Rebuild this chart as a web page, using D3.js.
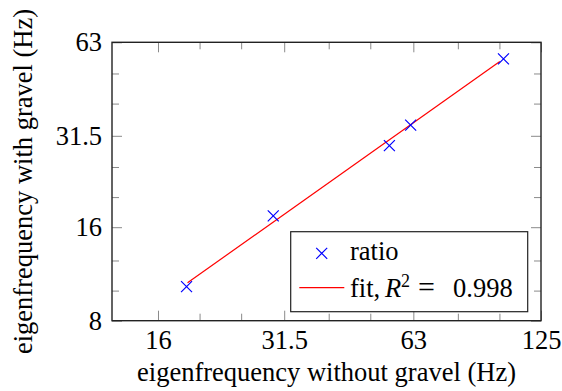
<!DOCTYPE html>
<html>
<head>
<meta charset="utf-8">
<script src="https://cdn.jsdelivr.net/npm/d3@7"></script>
<style>
  body { margin: 0; background: #fff; }
</style>
</head>
<body>
<div id="chart"></div>
<script>
// data
const freqWithout = [18.65, 29.7, 55.4, 62.1, 102.2];
const freqWith = [10.3, 17.4, 29.3, 34.1, 55.7];
const fitX = [18.75, 100.2];
const fitY = [10.6, 54.6];
const xMajor = [16, 31.5, 63, 125];
const xMinor = [20, 25, 40, 50, 80, 100];
const yMajor = [8, 16, 31.5, 63];
const yMinor = [10, 12.5, 20, 25, 40, 50];
const legendLabels = ["ratio", "fit"];

const width = 562;
const height = 391;
const m = { left: 112, right: 541, top: 42.3, bottom: 320.7 };
const fontSize = 26.5;
const serif = "'Liberation Serif', 'Times New Roman', serif";

const svg = d3.select("#chart").append("svg")
  .attr("width", width)
  .attr("height", height)
  .style("font-family", serif);

const x = d3.scaleLog().base(2).domain([12.5, 125]).range([m.left, m.right]);
const y = d3.scaleLog().base(2).domain([8, 63]).range([m.bottom, m.top]);

const fmt = (d) => String(d);

// ticks on all four sides, pointing inward
function addAxis(axisFn, scale, values, size, transform, labels) {
  const g = svg.append("g")
    .attr("transform", transform)
    .call(axisFn(scale).tickValues(values).tickSize(size)
      .tickPadding(labels ? 9 : 0)
      .tickFormat(labels ? fmt : () => ""));
  g.attr("font-family", null).attr("font-size", null);
  g.select(".domain").remove();
  g.selectAll(".tick line").attr("stroke", "#8a8a8a").attr("stroke-width", 1);
  g.selectAll("text")
    .style("font-size", fontSize + "px")
    .style("font-family", serif)
    .attr("fill", "#000");
  return g;
}

addAxis(d3.axisBottom, x, xMajor, -10, `translate(0,${m.bottom})`, true);
addAxis(d3.axisBottom, x, xMinor, -7, `translate(0,${m.bottom})`, false);
addAxis(d3.axisTop, x, xMajor, -10, `translate(0,${m.top})`, false);
addAxis(d3.axisTop, x, xMinor, -7, `translate(0,${m.top})`, false);
const yl = addAxis(d3.axisLeft, y, yMajor, -10, `translate(${m.left},0)`, true);
yl.selectAll("text").attr("x", -10);
addAxis(d3.axisLeft, y, yMinor, -7, `translate(${m.left},0)`, false);
addAxis(d3.axisRight, y, yMajor, -10, `translate(${m.right},0)`, false);
addAxis(d3.axisRight, y, yMinor, -7, `translate(${m.right},0)`, false);

// frame
svg.append("rect")
  .attr("x", m.left).attr("y", m.top)
  .attr("width", m.right - m.left).attr("height", m.bottom - m.top)
  .attr("fill", "none")
  .attr("stroke", "#222")
  .attr("stroke-width", 1.4);

// fit line
svg.append("line")
  .attr("x1", x(fitX[0])).attr("y1", y(fitY[0]))
  .attr("x2", x(fitX[1])).attr("y2", y(fitY[1]))
  .attr("stroke", "#ff0000")
  .attr("stroke-width", 1.2);

const cross = (s) => `M${-s},${-s}L${s},${s}M${-s},${s}L${s},${-s}`;

svg.selectAll(".pt")
  .data(freqWithout)
  .enter()
  .append("path")
  .attr("class", "pt")
  .attr("transform", (d, i) => `translate(${x(d)},${y(freqWith[i])})`)
  .attr("d", cross(5.5))
  .attr("fill", "none")
  .attr("stroke", "#0000ff")
  .attr("stroke-width", 1.2);

// axis titles
svg.append("text")
  .attr("x", (m.left + m.right) / 2)
  .attr("y", 381)
  .attr("text-anchor", "middle")
  .style("font-family", serif)
  .style("font-size", fontSize + "px")
  .text("eigenfrequency without gravel (Hz)");

svg.append("text")
  .attr("transform", `translate(32,${(m.top + m.bottom) / 2}) rotate(-90)`)
  .attr("text-anchor", "middle")
  .style("font-family", serif)
  .style("font-size", fontSize + "px")
  .text("eigenfrequency with gravel (Hz)");

// legend
const lg = svg.append("g");
lg.append("rect")
  .attr("x", 290.7).attr("y", 231.7)
  .attr("width", 237).attr("height", 80)
  .attr("fill", "#fff")
  .attr("stroke", "#222")
  .attr("stroke-width", 1.2);

lg.append("path")
  .attr("transform", "translate(321.7,253.3)")
  .attr("d", cross(5.5))
  .attr("fill", "none")
  .attr("stroke", "#0000ff")
  .attr("stroke-width", 1.2);

lg.append("text")
  .attr("x", 350).attr("y", 260)
  .style("font-family", serif)
  .style("font-size", fontSize + "px")
  .text(legendLabels[0]);

lg.append("line")
  .attr("x1", 299.3).attr("x2", 344.3)
  .attr("y1", 287.7).attr("y2", 287.7)
  .attr("stroke", "#ff0000")
  .attr("stroke-width", 1.2);

const t2 = lg.append("text")
  .attr("x", 350).attr("y", 296.7)
  .style("font-family", serif)
  .style("font-size", fontSize + "px");
t2.append("tspan").text(legendLabels[1] + ",");
t2.append("tspan").attr("x", 385).style("font-style", "italic").text("R");
t2.append("tspan").attr("x", 401).attr("dy", -10).style("font-size", "18px").text("2");
t2.append("tspan").attr("x", 418).attr("dy", 10).style("font-size", "30px").text("=");
t2.append("tspan").attr("x", 453).text("0.998");
</script>
</body>
</html>
